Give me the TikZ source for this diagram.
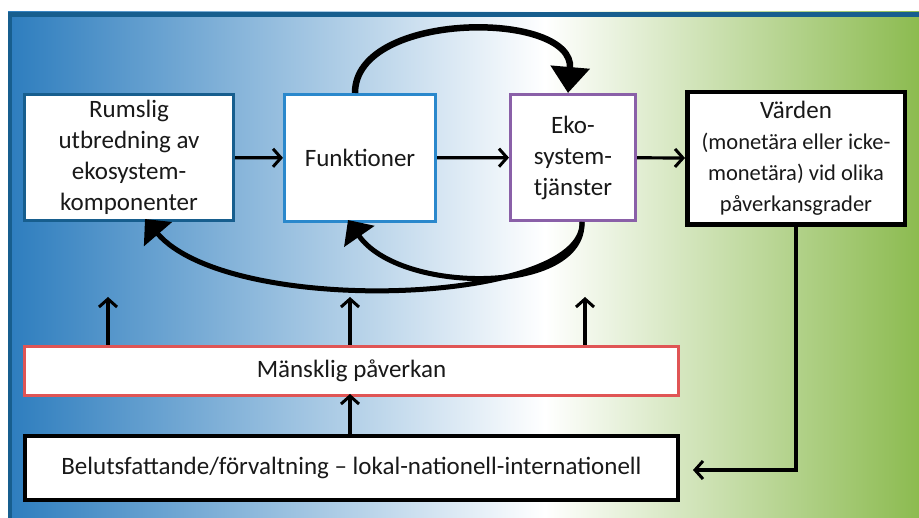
\documentclass[tikz,border=0pt]{standalone}
\usepackage{fontspec}
\setmainfont{Carlito}
\usepackage{xcolor}
\usetikzlibrary{arrows.meta,positioning,calc}
\definecolor{ramblue}{RGB}{23,94,142}
\definecolor{bgblue}{RGB}{45,125,190}
\definecolor{bggreen}{RGB}{140,187,80}
\definecolor{funkblue}{RGB}{42,136,204}
\definecolor{ekopurple}{RGB}{138,96,168}
\definecolor{paverred}{RGB}{224,85,85}
\definecolor{textgray}{RGB}{25,25,25}
\newcommand{\smalltxt}{\fontsize{22.5}{28}\selectfont}

\begin{document}
\begin{tikzpicture}[x=1pt,y=-1pt,
    box/.style={draw,fill=white,line width=3pt,align=center,inner sep=0pt,text=textgray,
      font=\fontsize{25}{31}\selectfont},
    thinarr/.style={-{Straight Barb[length=8pt,width=18pt,line width=3pt]},line width=3.2pt},
    loopfram/.style={-{Triangle[length=26pt,width=38pt]},line width=6.5pt},
    loopbak/.style={-{Triangle[length=20pt,width=36pt]},line width=5pt}]
    \useasboundingbox (0,0) rectangle (919,518);

    % 背景与边框
    \shade[left color=bgblue,right color=white] (8,12) rectangle (545,518);
    \shade[left color=white,right color=bggreen] (545,12) rectangle (919,518);
    \fill[ramblue] (8,12) rectangle (919,17);
    \fill[ramblue] (8,12) rectangle (12,518);

    % 上排四个框
    \node[box,draw=ramblue,minimum width=209pt,minimum height=126pt] (rum) at (129,157.5)
      {Rumslig\\utbredning av\\ekosystem-\\komponenter};
    \node[box,draw=funkblue,minimum width=151pt,minimum height=127pt] (funk) at (360,158) {Funktioner};
    \node[box,draw=ekopurple,minimum width=125pt,minimum height=126pt] (eko) at (573,157.5)
      {Eko-\\system-\\tjänster};
    \node[box,draw=black,line width=4.5pt,minimum width=217.5pt,minimum height=132.5pt] (varden) at (796,158.5)
      {Värden\\\smalltxt (monetära eller icke-\\\smalltxt monetära) vid olika\\\smalltxt påverkansgrader};

    % 下排两个框
    \node[box,draw=paverred,minimum width=654pt,minimum height=49pt] (mansk) at (351.5,371) {Mänsklig påverkan};
    \node[box,draw=black,line width=4pt,minimum width=653pt,minimum height=64pt] (beslut) at (351.5,468)
      {Belutsfattande/förvaltning – lokal-nationell-internationell};

    % 横向箭头
    \draw[thinarr] (rum) -- (funk);
    \draw[thinarr] (funk) -- (eko);
    \draw[thinarr] (eko) -- (varden);

    % 反馈弧线
    \draw[loopfram] ([xshift=-5pt]funk.north) .. controls (355,10) and (575,10) .. ([xshift=-5pt]eko.north);
    \draw[loopbak] ([xshift=9pt]eko.south) .. controls (585,295) and (400,295) .. ([xshift=-12pt,yshift=3pt]funk.south);
    \draw[loopbak] ([xshift=9pt]eko.south) .. controls (585,305) and (230,318) .. ([xshift=16pt,yshift=3pt]rum.south);

    % 人类影响向上箭头
    \foreach \dx in {-243.5,-1.5,233.5}
      \draw[thinarr] ([xshift=\dx pt]mansk.north) -- ++(0,-48);
    \draw[thinarr] ([xshift=-1.5pt]beslut.north) -- ([xshift=-1.5pt,yshift=3pt]mansk.south);
    \draw[thinarr] (varden.south) |- ([xshift=13pt,yshift=-2pt]beslut.east);
\end{tikzpicture}
\end{document}
